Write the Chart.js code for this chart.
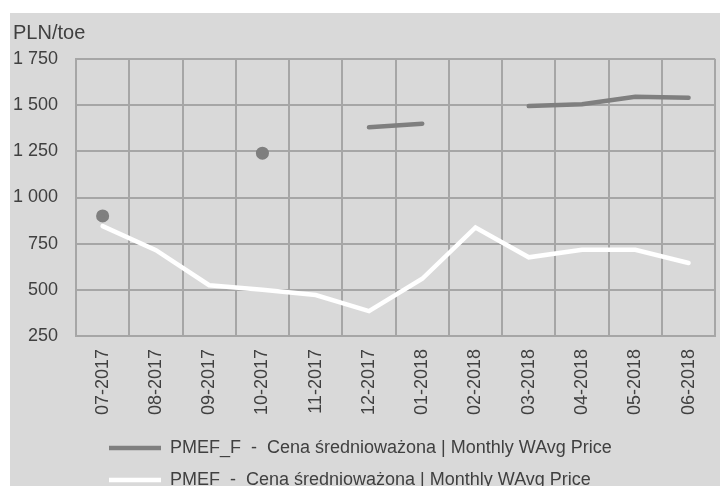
<!DOCTYPE html>
<html>
<head>
<meta charset="utf-8">
<script src="https://cdn.jsdelivr.net/npm/chart.js@4/dist/chart.umd.min.js"></script>
<style>
  html, body { margin: 0; padding: 0; background: #fff; overflow: hidden; width: 720px; height: 486px; }
  #priceChart { position: absolute; left: 10px; top: 13px; background: #d9d9d9; }
</style>
</head>
<body>
<canvas id="priceChart" width="714" height="476"></canvas>
<script>
// Monthly prices, PLN/toe
const months = ['07-2017', '08-2017', '09-2017', '10-2017', '11-2017', '12-2017',
                '01-2018', '02-2018', '03-2018', '04-2018', '05-2018', '06-2018'];
const pmefF = [900, null, null, 1240, null, 1380, 1400, null, 1495, 1505, 1545, 1540];
const pmef = [845, 715, 525, 500, 472, 385, 560, 838, 676, 717, 717, 645];
const yMin = 250;
const yMax = 1750;
const yStep = 250;

const textColor = '#404040';
const gridColor = '#a6a6a6';

Chart.defaults.font.family = "'Liberation Sans', Arial, sans-serif";
Chart.defaults.font.size = 18;
Chart.defaults.color = textColor;

// markers only where a point stands alone (Excel style)
function loneMarker(ctx) {
    const d = ctx.dataset.data;
    const i = ctx.dataIndex;
    if (d[i] == null) return 0;
    const prev = i > 0 ? d[i - 1] : null;
    const next = i < d.length - 1 ? d[i + 1] : null;
    return (prev == null && next == null) ? 4.3 : 0;
}

// push legend rows into place, left aligned in one block
const legendPlace = {
    id: 'legendPlace',
    afterLayout(chart) {
        const lg = chart.legend;
        lg.left = 99 - lg.options.labels.padding;
        lg.top += 10;
        lg.bottom += 10;
    }
};

const priceChart = document.getElementById('priceChart');

new Chart(priceChart, {
    type: 'line',
    data: {
        labels: months,
        datasets: [{
            label: 'PMEF_F  -  Cena średnioważona | Monthly WAvg Price',
            data: pmefF,
            borderColor: '#7f7f7f',
            backgroundColor: '#7f7f7f',
            borderWidth: 4.5,
            borderCapStyle: 'round',
            pointRadius: loneMarker,
            pointBorderWidth: 4.5,
            pointBorderColor: '#7f7f7f',
            pointBackgroundColor: '#7f7f7f',
            spanGaps: false
        }, {
            label: 'PMEF  -  Cena średnioważona | Monthly WAvg Price',
            data: pmef,
            borderColor: '#ffffff',
            backgroundColor: '#ffffff',
            borderWidth: 4.5,
            borderCapStyle: 'round',
            pointRadius: 0,
            pointBorderWidth: 4.5,
            pointBorderColor: '#ffffff'
        }]
    },
    options: {
        responsive: false,
        animation: false,
        layout: { padding: { left: 3, right: 0, top: 0, bottom: 0 } },
        scales: {
            x: {
                offset: true,
                grid: { offset: true, color: gridColor, lineWidth: 2, drawTicks: false },
                border: { color: gridColor, width: 2 },
                ticks: { minRotation: 90, maxRotation: 90, padding: 13, color: textColor },
                afterFit(scale) { scale.height = 79; }
            },
            y: {
                min: yMin,
                max: yMax,
                grid: { color: gridColor, lineWidth: 2, drawTicks: false },
                border: { color: gridColor, width: 2 },
                ticks: {
                    stepSize: yStep,
                    padding: 18,
                    color: textColor,
                    callback: v => String(v).replace(/\B(?=(\d{3})+(?!\d))/g, ' ')
                },
                afterFit(scale) { scale.width = 63; }
            }
        },
        plugins: {
            title: {
                display: true,
                text: 'PLN/toe',
                align: 'start',
                color: textColor,
                font: { size: 20, weight: 'normal' },
                padding: { top: 8, bottom: 14 }
            },
            legend: {
                position: 'bottom',
                align: 'start',
                labels: {
                    usePointStyle: true,
                    pointStyle: 'line',
                    pointStyleWidth: 52,
                    padding: 14,
                    color: textColor
                }
            },
            tooltip: { enabled: false }
        }
    },
    plugins: [legendPlace]
});
</script>
</body>
</html>
